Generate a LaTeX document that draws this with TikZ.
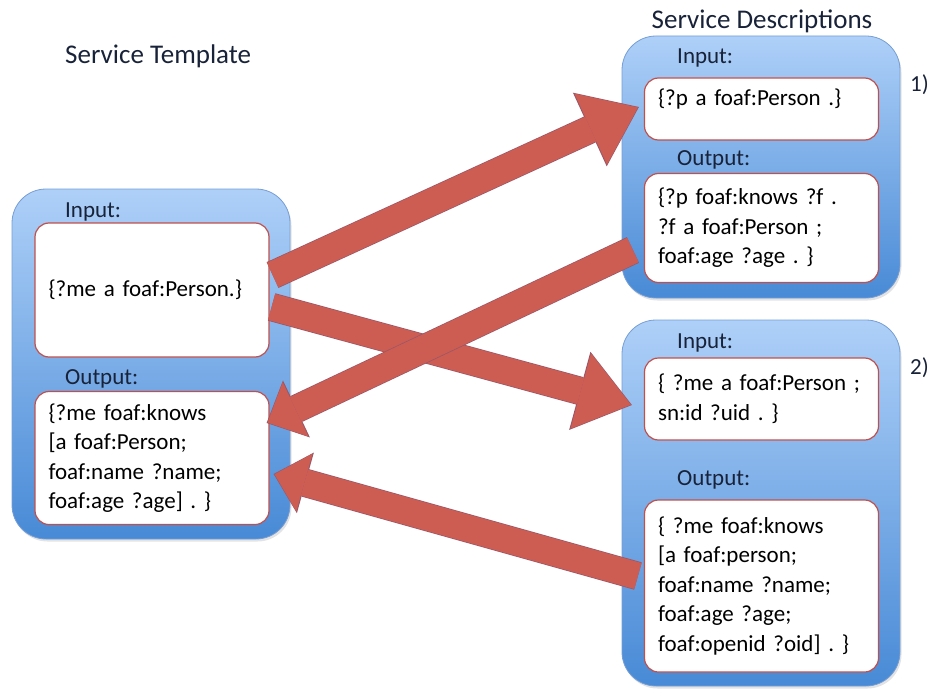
\documentclass[tikz,border=0pt]{standalone}
\usepackage{fontspec}
\setmainfont{Carlito}
\usepackage{tikz}
\usetikzlibrary{arrows.meta,calc,positioning,shadows}

\definecolor{flowred}{RGB}{205,92,83}
\definecolor{flowedge}{RGB}{150,88,104}
\definecolor{paneltop}{RGB}{174,208,248}
\definecolor{panelbottom}{RGB}{72,138,214}
\definecolor{paneledge}{RGB}{118,158,212}
\definecolor{slotedge}{RGB}{192,80,77}
\definecolor{labeltext}{RGB}{24,34,56}

\begin{document}
\frenchspacing
\begin{tikzpicture}[
  x=1pt, y=-1pt,
  font=\fontsize{23}{29.5}\selectfont,
  panel/.style={
    rectangle,
    rounded corners=34pt,
    draw=paneledge,
    line width=0.8pt,
    top color=paneltop,
    bottom color=panelbottom,
    minimum width=278pt,
    inner sep=0pt,
    drop shadow={opacity=0.22,shadow xshift=1.5pt,shadow yshift=-2.5pt}
  },
  slot/.style={
    rectangle,
    rounded corners=14pt,
    draw=slotedge,
    line width=1.2pt,
    fill=white,
    text width=207pt,
    inner xsep=13.5pt,
    inner ysep=0pt,
    align=left
  },
  heading/.style={
    anchor=west,
    inner sep=0pt,
    text=labeltext
  },
  title/.style={
    heading,
    font=\fontsize{27}{32}\selectfont
  },
  flowout/.style={
    draw=flowred,
    line width=27pt,
    shorten >=1pt,
    -{Triangle[length=52pt,width=78pt,line width=0pt]},
    preaction={
      draw=flowedge,
      line width=28.4pt,
      shorten >=0pt,
      -{Triangle[length=54pt,width=81pt,line width=0pt]}
    }
  },
  flowback/.style={
    draw=flowred,
    line width=27pt,
    shorten >=1pt,
    -{Triangle[length=31pt,width=60pt,line width=0pt]},
    preaction={
      draw=flowedge,
      line width=28.4pt,
      shorten >=0pt,
      -{Triangle[length=33pt,width=63pt,line width=0pt]}
    }
  }
]
\useasboundingbox (0,0) rectangle (934,690);

% Service template
\node[title] (tmpltitle) at (65,56) {Service Template};
\node[panel, minimum height=350pt] (tmpl) at (151,364) {};
\node[heading] (tinlabel) at (65,212) {Input:};
\node[slot, minimum height=134pt] (tin) at (152,290)
  {\{?me a foaf:Person.\}};
\node[heading] (toutlabel) at (65,379) {Output:};
\node[slot, minimum height=133pt] (tout) at (152,458)
  {\{?me foaf:knows\\
   {[}a foaf:Person;\\
   foaf:name ?name;\\
   foaf:age ?age{]} . \}};

% Service descriptions
\node[title, anchor=center] (sdtitle) at (762,21) {Service Descriptions};

\node[panel, minimum height=262pt] (sd1) at (761,167) {};
\node[heading] (sd1inlabel) at (677,58) {Input:};
\node[slot, minimum height=62pt, text depth=24pt] (sd1in) at (761.5,109)
  {\{?p a foaf:Person .\}};
\node[heading] (sd1outlabel) at (677,160) {Output:};
\node[slot, minimum height=109pt] (sd1out) at (761.5,228)
  {\{?p foaf:knows ?f .\\
   ?f a foaf:Person ;\\
   foaf:age ?age . \}};
\node[heading] (one) at (910,85) {1)};

\node[panel, minimum height=366pt] (sd2) at (761,503) {};
\node[heading] (sd2inlabel) at (677,343) {Input:};
\node[slot, minimum height=82pt] (sd2in) at (761.5,399)
  {\{ ?me a foaf:Person ;\\
   sn:id ?uid . \}};
\node[heading] (sd2outlabel) at (677,480) {Output:};
\node[slot, minimum height=172pt] (sd2out) at (761.5,586)
  {\{ ?me foaf:knows\\
   {[}a foaf:person;\\
   foaf:name ?name;\\
   foaf:age ?age;\\
   foaf:openid ?oid{]} . \}};
\node[heading] (two) at (910,368) {2)};

% Matching arrows
\draw[flowout]
  ($(tin.east)+(3,-15)$) -- ($(sd1in.west)+(-5,-2)$);
\draw[flowout]
  ($(tin.east)+(2,17)$) -- ($(sd2in.west)+(-12,6)$);
\draw[flowback]
  ($(sd1out.west)+(-11,22)$) -- ($(tout.east)+(-3,-35)$);
\draw[flowback]
  ($(sd2out.west)+(-6,-10)$) -- ($(tout.east)+(4,16)$);

\end{tikzpicture}
\end{document}
